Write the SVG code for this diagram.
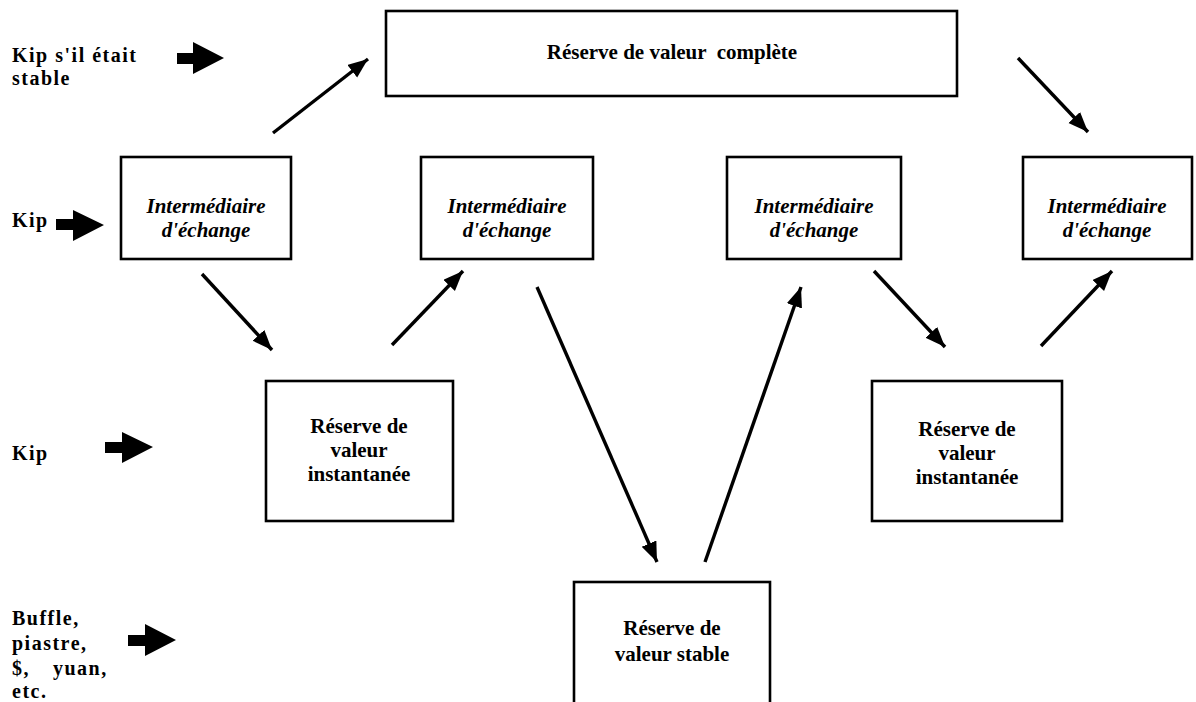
<svg xmlns="http://www.w3.org/2000/svg" width="1196" height="702" viewBox="0 0 1196 702">
<style>
  .box { fill: #fff; stroke: #000; stroke-width: 2.6; }
  .t { font-family: "Liberation Serif", "Times New Roman", serif; font-weight: bold; font-size: 21px; fill: #000; text-anchor: middle; }
  .ti { font-style: italic; }
  .lbl { font-family: "Liberation Serif", "Times New Roman", serif; font-weight: bold; font-size: 20px; letter-spacing: 1.5px; fill: #000; }
  .conn { stroke: #000; stroke-width: 3.4; fill: none; marker-end: url(#ah); }
  .big { fill: #000; }
</style>
<defs>
  <marker id="ah" markerUnits="userSpaceOnUse" markerWidth="22" markerHeight="18" refX="20" refY="8" orient="auto">
    <path d="M0,0 L20,8 L0,16 Z" fill="#000"/>
  </marker>
</defs>
<rect width="1196" height="702" fill="#fff"/>

<g id="labels">
  <g id="label-kip-stable">
    <text class="lbl" x="12" y="62">Kip s'il était</text>
    <text class="lbl" x="12" y="85">stable</text>
    <path class="big" d="M177,53 H193 V42 L224,58 L193,74 V64 H177 Z"/>
  </g>
  <g id="label-kip-1">
    <text class="lbl" x="12" y="227">Kip</text>
    <path class="big" d="M56,219 H73 V210 L104,225 L73,241 V230 H56 Z"/>
  </g>
  <g id="label-kip-2">
    <text class="lbl" x="12" y="460">Kip</text>
    <path class="big" d="M105,442 H122 V432 L153,447 L122,463 V453 H105 Z"/>
  </g>
  <g id="label-buffle">
    <text class="lbl" x="12" y="625">Buffle,</text>
    <text class="lbl" x="12" y="650">piastre,</text>
    <text class="lbl" x="12" y="675">$,</text>
    <text class="lbl" x="53" y="675">yuan,</text>
    <text class="lbl" x="12" y="698">etc.</text>
    <path class="big" d="M128,635 H145 V624 L176,640 L145,656 V646 H128 Z"/>
  </g>
</g>

<g id="node-complete">
  <rect class="box" x="386" y="11" width="571" height="85"/>
  <text class="t" x="672" y="59" xml:space="preserve">Réserve de valeur  complète</text>
</g>

<g id="node-ie1">
  <rect class="box" x="121" y="157" width="170" height="102"/>
  <text class="t ti" x="206" y="213">Intermédiaire</text>
  <text class="t ti" x="206" y="237">d'échange</text>
</g>
<g id="node-ie2">
  <rect class="box" x="421" y="157" width="172" height="102"/>
  <text class="t ti" x="507" y="213">Intermédiaire</text>
  <text class="t ti" x="507" y="237">d'échange</text>
</g>
<g id="node-ie3">
  <rect class="box" x="727" y="157" width="174" height="102"/>
  <text class="t ti" x="814" y="213">Intermédiaire</text>
  <text class="t ti" x="814" y="237">d'échange</text>
</g>
<g id="node-ie4">
  <rect class="box" x="1023" y="157" width="169" height="102"/>
  <text class="t ti" x="1107" y="213">Intermédiaire</text>
  <text class="t ti" x="1107" y="237">d'échange</text>
</g>

<g id="node-inst1">
  <rect class="box" x="266" y="381" width="187" height="140"/>
  <text class="t" x="359" y="433">Réserve de</text>
  <text class="t" x="359" y="457">valeur</text>
  <text class="t" x="359" y="481">instantanée</text>
</g>
<g id="node-inst2">
  <rect class="box" x="872" y="381" width="190" height="140"/>
  <text class="t" x="967" y="436">Réserve de</text>
  <text class="t" x="967" y="460">valeur</text>
  <text class="t" x="967" y="484">instantanée</text>
</g>

<g id="node-stable">
  <rect class="box" x="574" y="582" width="196" height="130"/>
  <text class="t" x="672" y="635">Réserve de</text>
  <text class="t" x="672" y="661">valeur stable</text>
</g>

<g id="connectors">
  <line class="conn" x1="273" y1="133" x2="368" y2="59"/>
  <line class="conn" x1="1018" y1="58" x2="1088" y2="132"/>
  <line class="conn" x1="202" y1="274" x2="272" y2="350"/>
  <line class="conn" x1="392" y1="345" x2="463" y2="271"/>
  <line class="conn" x1="537" y1="287" x2="657" y2="562"/>
  <line class="conn" x1="705" y1="562" x2="801" y2="287"/>
  <line class="conn" x1="874" y1="271" x2="945" y2="347"/>
  <line class="conn" x1="1041" y1="346" x2="1112" y2="271"/>
</g>
</svg>
